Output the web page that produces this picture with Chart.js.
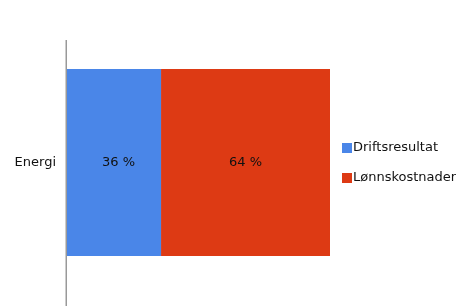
<!DOCTYPE html>
<html>
<head>
<meta charset="utf-8">
<script src="https://cdn.jsdelivr.net/npm/chart.js@4"></script>
<style>
  html, body { margin: 0; padding: 0; background: #fff; }
  #wrap { width: 456px; height: 306px; }
</style>
</head>
<body>
<div id="wrap"><canvas id="stage" width="456" height="306"></canvas></div>
<script>
// data
const categories = ['Energi'];
const driftsresultat = [36];
const lonnskostnader = [64];
const seriesNames = ['Driftsresultat', 'Lønnskostnader'];

const FONT = 'DejaVu Sans';

// value labels inside the bars
const barLabels = {
  id: 'barLabels',
  afterDatasetsDraw(chart) {
    const ctx = chart.ctx;
    ctx.save();
    ctx.font = '13px "' + FONT + '"';
    ctx.fillStyle = '#111';
    ctx.textAlign = 'center';
    ctx.textBaseline = 'middle';
    chart.data.datasets.forEach((ds, i) => {
      chart.getDatasetMeta(i).data.forEach((bar, j) => {
        const cx = (bar.x + bar.base) / 2;
        ctx.fillText(ds.data[j] + ' %', cx + (i === 0 ? 5 : 0), bar.y);
      });
    });
    ctx.restore();
  }
};

// vertical axis line, runs down to the bottom edge
const axisLine = {
  id: 'axisLine',
  afterDraw(chart) {
    const ctx = chart.ctx;
    const x = chart.chartArea.left;
    ctx.save();
    ctx.strokeStyle = '#999';
    ctx.lineWidth = 1.5;
    ctx.beginPath();
    ctx.moveTo(x + 0.25, chart.chartArea.top);
    ctx.lineTo(x + 0.25, chart.height);
    ctx.stroke();
    ctx.restore();
  }
};

// legend on the right
const sideLegend = {
  id: 'sideLegend',
  afterDraw(chart) {
    const ctx = chart.ctx;
    const x0 = 342;
    let y = 148;
    ctx.save();
    ctx.font = '13px "' + FONT + '"';
    ctx.textBaseline = 'middle';
    ctx.textAlign = 'left';
    chart.data.datasets.forEach(ds => {
      ctx.fillStyle = ds.backgroundColor;
      ctx.fillRect(x0, y - 5, 10, 10);
      ctx.fillStyle = '#111';
      ctx.fillText(ds.label, x0 + 11, y);
      y += 30;
    });
    ctx.restore();
  }
};

new Chart(document.getElementById('stage'), {
  type: 'bar',
  data: {
    labels: categories,
    datasets: [
      { label: seriesNames[0], data: driftsresultat, backgroundColor: '#4a86e8' },
      { label: seriesNames[1], data: lonnskostnader, backgroundColor: '#dd3a14' }
    ]
  },
  options: {
    indexAxis: 'y',
    responsive: false,
    animation: false,
    layout: { padding: { top: 40, bottom: 21, right: 126, left: 0 } },
    datasets: { bar: { barPercentage: 0.763, categoryPercentage: 1 } },
    scales: {
      x: { stacked: true, min: 0, max: 100, display: false },
      y: {
        stacked: true,
        grid: { display: false, drawTicks: false },
        border: { display: false },
        ticks: { color: '#111', font: { family: FONT, size: 13 }, padding: 10 },
        afterFit(scale) { scale.width = 66; }
      }
    },
    plugins: {
      legend: { display: false },
      tooltip: { enabled: false }
    }
  },
  plugins: [barLabels, axisLine, sideLegend]
});
</script>
</body>
</html>
